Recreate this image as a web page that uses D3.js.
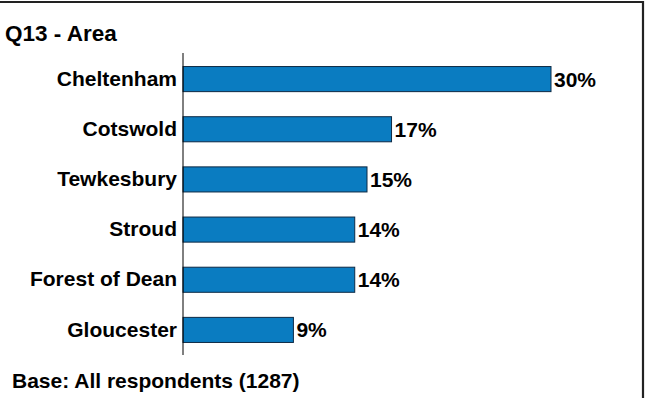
<!DOCTYPE html>
<html>
<head>
<meta charset="utf-8">
<script src="https://cdn.jsdelivr.net/npm/d3@7"></script>
<style>
  html, body { margin: 0; padding: 0; background: #fff; }
  svg { display: block; }
  text { font-family: "Liberation Sans", Arial, sans-serif; font-weight: bold; fill: #000; }
</style>
</head>
<body>
<svg id="chart" width="646" height="398"></svg>
<script>
// Survey question Q13: respondents by area (percent)
const categories = ["Cheltenham", "Cotswold", "Tewkesbury", "Stroud", "Forest of Dean", "Gloucester"];
const values = [30, 17, 15, 14, 14, 9];
const titleText = "Q13 - Area";
const baseText = "Base: All respondents (1287)";

const svg = d3.select("#chart");

// frame (top and right edges visible)
svg.append("path")
  .attr("d", "M-5,2 H643 V400")
  .attr("fill", "none")
  .attr("stroke", "#222")
  .attr("stroke-width", 2.2);

const axisX = 183;
const x = d3.scaleLinear().domain([0, 30]).range([axisX, 551]);
const y = d3.scaleBand().domain(categories).range([54, 355]).paddingInner(0.5).paddingOuter(0.25);

// bars
svg.selectAll("rect.bar")
  .data(categories)
  .join("rect")
  .attr("class", "bar")
  .attr("x", x(0))
  .attr("y", d => y(d))
  .attr("width", (d, i) => x(values[i]) - x(0))
  .attr("height", y.bandwidth())
  .attr("fill", "#0a7cc1")
  .attr("stroke", "#0d2a45")
  .attr("stroke-width", 1);

// category axis (line only, labels drawn alongside)
const axis = d3.axisLeft(y).tickSize(0).tickPadding(6);
const gAxis = svg.append("g").attr("transform", `translate(${axisX},0)`).call(axis);
gAxis.select(".domain").attr("d", "M0,53V355").attr("stroke", "#000").attr("stroke-width", 1);
gAxis.selectAll(".tick text")
  .attr("font-family", "Liberation Sans, Arial, sans-serif")
  .attr("font-weight", "bold")
  .attr("font-size", 21)
  .attr("fill", "#000");

// value labels
svg.selectAll("text.val")
  .data(categories)
  .join("text")
  .attr("class", "val")
  .attr("x", (d, i) => x(values[i]) + 3)
  .attr("y", d => y(d) + y.bandwidth() / 2)
  .attr("dy", "0.36em")
  .attr("font-size", 21)
  .text((d, i) => values[i] + "%");

// title and base note
svg.append("text").attr("x", 5).attr("y", 41).attr("font-size", 22.5).text(titleText);
svg.append("text").attr("x", 12).attr("y", 388).attr("font-size", 21).text(baseText);
</script>
</body>
</html>
